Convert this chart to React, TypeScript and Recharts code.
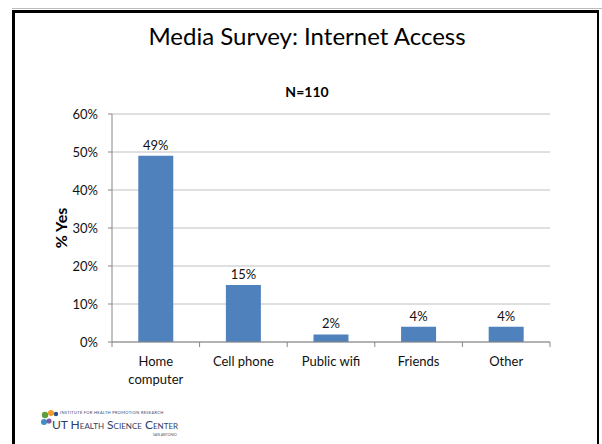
import { BarChart, Bar, XAxis, YAxis, CartesianGrid, LabelList } from 'recharts';

const categories = ['Home computer', 'Cell phone', 'Public wifi', 'Friends', 'Other'];
const percentYes = [49, 15, 2, 4, 4];
const yTicks = [0, 10, 20, 30, 40, 50, 60];

const data = categories.map((name, i) => ({ name, yes: percentYes[i] }));

const FONT = 'Lato, "Open Sans", sans-serif';
const AXIS = '#868686';
// plot area is 112..550 wide, 5 bands
const BAND = (550 - 112) / categories.length;

function CategoryTick(props: any) {
  const { x, y, payload, index } = props;
  const text = String(payload.value);
  // wrap long labels like excel does
  const lines = text.length > 12 ? text.split(' ') : [text];
  return (
    <g>
      <line x1={x - BAND / 2} x2={x - BAND / 2} y1={y} y2={y + 5} stroke={AXIS} />
      {index === categories.length - 1 && (
        <line x1={x + BAND / 2} x2={x + BAND / 2} y1={y} y2={y + 5} stroke={AXIS} />
      )}
      <text x={x} y={y + 24} textAnchor="middle" fontSize={13} fill="#111" fontFamily={FONT}>
        {lines.map((l, i) => (
          <tspan key={i} x={x} dy={i === 0 ? 0 : 18}>
            {l}
          </tspan>
        ))}
      </text>
    </g>
  );
}

function Logo() {
  return (
    <svg width={160} height={36} style={{ position: 'absolute', left: 36, top: 405 }}>
      <circle cx={9} cy={10} r={3.2} fill="#5f9e3c" />
      <circle cx={15} cy={8} r={3} fill="#f39a2a" />
      <circle cx={20} cy={9} r={2.2} fill="#2a4f8f" />
      <circle cx={8} cy={17} r={3} fill="#3d8fc6" />
      <circle cx={13} cy={16} r={2.6} fill="#7a5aa3" />
      <text x={24} y={9} fontSize={4} fill="#3b4770" fontFamily={FONT} letterSpacing={0.3}>
        INSTITUTE FOR HEALTH PROMOTION RESEARCH
      </text>
      <text x={16} y={24} fontSize={12} fill="#2f3d66" fontFamily={FONT} style={{ fontVariant: 'small-caps' }}>
        UT Health Science Center
      </text>
      <text x={117} y={31} fontSize={3.5} fill="#555" fontFamily={FONT}>
        SAN ANTONIO
      </text>
    </svg>
  );
}

export default function App() {
  return (
    <div style={{ position: 'absolute', left: 0, top: 0, width: 602, height: 444, background: '#fff', overflow: 'hidden' }}>
      <div style={{ position: 'absolute', left: 12, top: 8, width: 590, height: 1, background: '#bbb' }} />
      <div
        style={{
          position: 'absolute',
          left: 12,
          top: 10,
          width: 587,
          height: 450,
          borderLeft: '3px solid #000',
          borderTop: '3px solid #000',
          borderRight: '2px solid #000',
          boxSizing: 'border-box',
        }}
      />
      <div
        style={{
          position: 'absolute',
          left: 12,
          width: 590,
          top: 21,
          textAlign: 'center',
          fontFamily: FONT,
          fontSize: 24,
          color: '#000',
        }}
      >
        Media Survey: Internet Access
      </div>
      <div
        style={{
          position: 'absolute',
          left: 12,
          width: 590,
          top: 83,
          textAlign: 'center',
          fontFamily: FONT,
          fontSize: 14,
          fontWeight: 'bold',
          color: '#000',
        }}
      >
        N=110
      </div>
      <div
        style={{
          position: 'absolute',
          left: 60,
          top: 228,
          transform: 'translate(-50%, -50%) rotate(-90deg)',
          fontFamily: FONT,
          fontSize: 16,
          fontWeight: 'bold',
          whiteSpace: 'nowrap',
          color: '#000',
        }}
      >
        % Yes
      </div>
      <div style={{ position: 'absolute', left: 0, top: 0 }}>
        <BarChart
          width={602}
          height={444}
          data={data}
          margin={{ top: 114, right: 52, bottom: 62, left: 52 }}
          barCategoryGap="30%"
        >
          <CartesianGrid vertical={false} stroke="#c0c0c0" />
          <XAxis
            dataKey="name"
            height={40}
            axisLine={{ stroke: AXIS }}
            tickLine={false}
            tickSize={0}
            tickMargin={0}
            interval={0}
            tick={<CategoryTick />}
          />
          <YAxis
            width={60}
            domain={[0, 60]}
            ticks={yTicks}
            tickFormatter={(v) => `${v}%`}
            axisLine={{ stroke: AXIS }}
            tickLine={{ stroke: AXIS }}
            tickSize={4}
            tickMargin={10}
            tick={{ fontSize: 13, fill: '#111', fontFamily: FONT }}
          />
          <Bar dataKey="yes" fill="#4f81bd" isAnimationActive={false}>
            <LabelList
              dataKey="yes"
              position="top"
              offset={6}
              formatter={(v: any) => `${v}%`}
              style={{ fontSize: 13, fill: '#111', fontFamily: FONT }}
            />
          </Bar>
        </BarChart>
      </div>
      <Logo />
    </div>
  );
}
